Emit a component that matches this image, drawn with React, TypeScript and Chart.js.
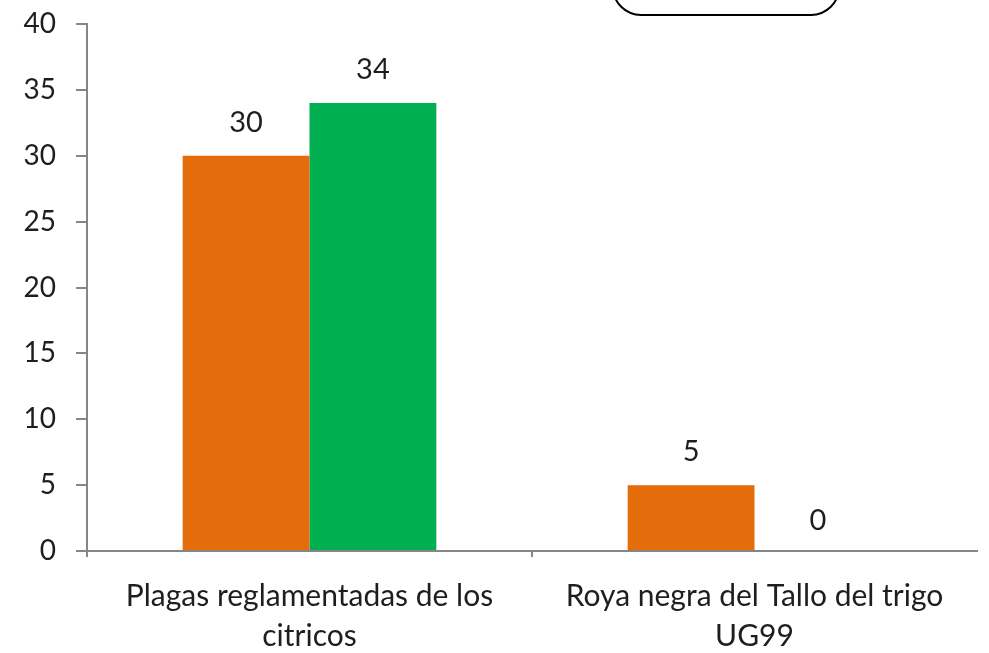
import React, { useEffect, useRef } from "react";
import { Chart, registerables } from "chart.js";

Chart.register(...registerables);

const categories: string[][] = [
  ["Plagas reglamentadas de los", "citricos"],
  ["Roya negra del Tallo del trigo", "UG99"],
];
const seriesA: number[] = [30, 5];
const seriesB: number[] = [34, 0];
const yTicks: number[] = [0, 5, 10, 15, 20, 25, 30, 35, 40];

const FONT = "Lato";
const FONT_SIZE = 29;
const TEXT = "#1e1e1e";
const AXIS = "#868686";

const valueLabels = {
  id: "valueLabels",
  afterDatasetsDraw(chart: any) {
    const ctx = chart.ctx;
    ctx.save();
    ctx.font = `${FONT_SIZE}px ${FONT}`;
    ctx.fillStyle = TEXT;
    ctx.textAlign = "center";
    ctx.textBaseline = "middle";
    chart.data.datasets.forEach((ds: any, di: number) => {
      const meta = chart.getDatasetMeta(di);
      meta.data.forEach((bar: any, i: number) => {
        const v = ds.data[i];
        ctx.fillText(String(v), bar.x, bar.y - (v === 0 ? 30 : 33));
      });
    });
    ctx.restore();
  },
};

const legendFrame = {
  id: "legendFrame",
  afterDraw(chart: any) {
    const ctx = chart.ctx;
    ctx.save();
    ctx.strokeStyle = "#000";
    ctx.lineWidth = 2;
    ctx.beginPath();
    ctx.roundRect(613, -45, 226, 60, 28);
    ctx.stroke();
    ctx.restore();
  },
};

export default function App() {
  const ref = useRef<HTMLCanvasElement | null>(null);
  useEffect(() => {
    if (!ref.current) return;
    const chart = new Chart(ref.current, {
      type: "bar",
      data: {
        labels: categories,
        datasets: [
          {
            label: "A",
            data: seriesA,
            backgroundColor: "#E46C0A",
            categoryPercentage: 0.57,
            barPercentage: 1.0,
          },
          {
            label: "B",
            data: seriesB,
            backgroundColor: "#00B050",
            categoryPercentage: 0.57,
            barPercentage: 1.0,
          },
        ],
      },
      options: {
        animation: false,
        responsive: false,
        maintainAspectRatio: false,
        layout: { padding: { top: 24, right: 12, left: 0, bottom: 0 } },
        plugins: { legend: { display: false }, tooltip: { enabled: false } },
        scales: {
          x: {
            afterFit: (s: any) => {
              s.height = 102;
              s.paddingLeft = 0;
              s.paddingRight = 0;
            },
            border: { display: true, color: AXIS, width: 2 },
            grid: {
              drawOnChartArea: false,
              drawTicks: true,
              tickLength: 6,
              lineWidth: 2,
              color: (c: any) => (c.type === "tick" ? AXIS : "rgba(0,0,0,0)"),
            },
            ticks: {
              color: TEXT,
              font: { family: FONT, size: 30, lineHeight: 1.33 },
              padding: 19,
              maxRotation: 0,
              autoSkip: false,
            },
          },
          y: {
            min: 0,
            max: 40,
            afterFit: (s: any) => {
              s.width = 87;
              s.paddingTop = 0;
              s.paddingBottom = 0;
            },
            afterBuildTicks: (s: any) => {
              s.ticks = yTicks.map((v) => ({ value: v }));
            },
            border: { display: true, color: AXIS, width: 2 },
            grid: {
              drawOnChartArea: false,
              drawTicks: true,
              tickLength: 11,
              lineWidth: 2,
              color: AXIS,
            },
            ticks: {
              color: TEXT,
              font: { family: FONT, size: 28 },
              padding: 20,
            },
          },
        },
      },
      plugins: [valueLabels, legendFrame],
    });
    return () => chart.destroy();
  }, []);
  return (
    <div style={{ position: "fixed", left: 0, top: 0, width: 989, height: 653, background: "#fff" }}>
      <canvas ref={ref} width={989} height={653} style={{ width: 989, height: 653 }} />
    </div>
  );
}
